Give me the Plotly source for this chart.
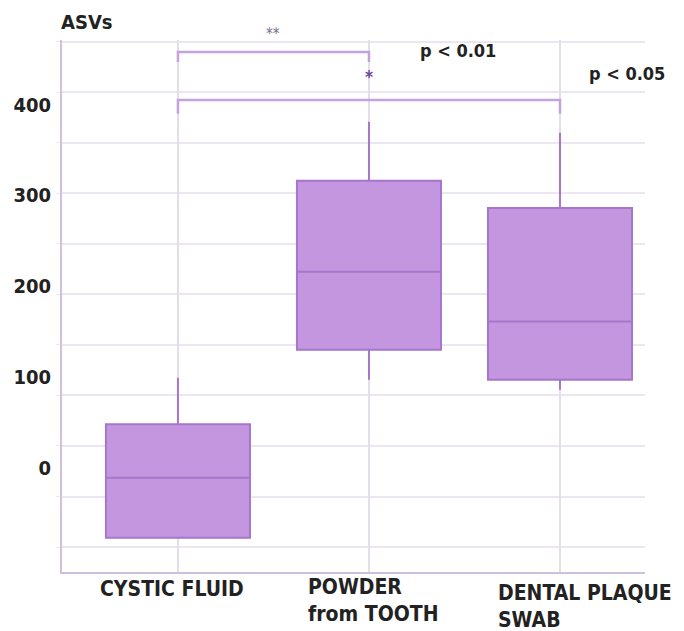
import plotly.graph_objects as go

# ---------------- data ----------------
categories = ["CYSTIC FLUID", "POWDER<br>from TOOTH", "DENTAL PLAQUE<br>SWAB"]
lower_whisker = [-77, 97, 86]
q1 = [-77, 130, 97]
median = [-11, 216, 161]
q3 = [48, 316, 286]
upper_whisker = [99, 381, 369]

y_tick_values = [0, 100, 200, 300, 400]
y_tick_labels = ["0", "100", "200", "300", "400"]

# significance brackets: (from category, to category, bar level, leg end level)
bracket_from = [0, 0]
bracket_to = [1, 2]
bracket_level = [458, 405]
bracket_leg = [447, 390]
star_labels = ["**", "*"]
p_labels = ["p < 0.01", "p < 0.05"]

# ---------------- style ----------------
FONT = "DejaVu Sans Condensed"
TXT = "#222222"
FILL = "#c496df"
LINE = "#a676cc"
GRID = "#ebe6f1"
VGRID = "#e3dfe9"
AXIS = "#cfc1de"
BRACKET = "#c3a3da"

positions = list(range(len(categories)))

fig = go.Figure()
fig.add_trace(go.Box(
    x=positions, q1=q1, median=median, q3=q3,
    lowerfence=lower_whisker, upperfence=upper_whisker,
    width=0.754, whiskerwidth=0, boxpoints=False,
    fillcolor=FILL, line=dict(color=LINE, width=2),
    showlegend=False, hoverinfo="skip",
))

shapes = []
for a, b, lvl, leg in zip(bracket_from, bracket_to, bracket_level, bracket_leg):
    shapes.append(dict(
        type="path", xref="x", yref="y",
        path=f"M {a},{leg} L {a},{lvl} L {b},{lvl} L {b},{leg}",
        line=dict(color=BRACKET, width=2.5),
    ))

annotations = []
# y-axis title
annotations.append(dict(text="ASVs", xref="paper", yref="paper", x=0, y=1,
                        xanchor="left", yanchor="bottom", xshift=-3, yshift=4,
                        showarrow=False, font=dict(family=FONT, size=20, color=TXT, weight="bold")))
# stars
annotations.append(dict(text=star_labels[0], x=0.5, y=1, xref="x", yref="paper",
                        yanchor="middle", yshift=6,
                        showarrow=False, font=dict(family=FONT, size=15, color="#7a6d90")))
annotations.append(dict(text=star_labels[1], x=1, y=430, xref="x", yref="y",
                        showarrow=False, font=dict(family=FONT, size=17, color="#6e449c", weight="bold")))
# p-values
annotations.append(dict(text=p_labels[0], x=1.257, y=460, xref="x", yref="y", xanchor="left",
                        showarrow=False, font=dict(family=FONT, size=18, color=TXT, weight="bold")))
annotations.append(dict(text=p_labels[1], x=2.141, y=434, xref="x", yref="y", xanchor="left",
                        showarrow=False, font=dict(family=FONT, size=18, color=TXT, weight="bold")))
# category labels
label_xshift = [-80, -63, -64]
label_yshift = [-3, -1, -7]
for pos, lab, sx, sy in zip(positions, categories, label_xshift, label_yshift):
    annotations.append(dict(text=lab, x=pos, y=0, xref="x", yref="paper",
                            xanchor="left", yanchor="top", align="left", xshift=sx, yshift=sy,
                            showarrow=False,
                            font=dict(family=FONT, size=21, color=TXT, weight="bold")))

fig.update_layout(
    width=676, height=623,
    margin=dict(l=54, r=39, t=32, b=59, autoexpand=False),
    paper_bgcolor="white", plot_bgcolor="white",
    shapes=shapes, annotations=annotations,
    xaxis=dict(range=[-0.607, 2.445], tickvals=positions, showticklabels=False,
               showgrid=True, gridcolor=VGRID, gridwidth=1.5, zeroline=False, automargin=False,
               showline=True, linecolor=AXIS, linewidth=2, ticks=""),
    yaxis=dict(range=[-114.8, 471.1], tickvals=y_tick_values, ticktext=y_tick_labels,
               showgrid=False, zeroline=False, showline=True, linecolor=AXIS, linewidth=2,
               ticks="", ticklabelstandoff=5, automargin=False,
               tickfont=dict(family=FONT, size=20, color=TXT, weight="bold"),
               minor=dict(tick0=-87.3, dtick=55.64, showgrid=True, gridcolor=GRID, gridwidth=1.5,
                          ticks="outside", ticklen=4, tickcolor=GRID)),
)

fig.write_html("out.html")
